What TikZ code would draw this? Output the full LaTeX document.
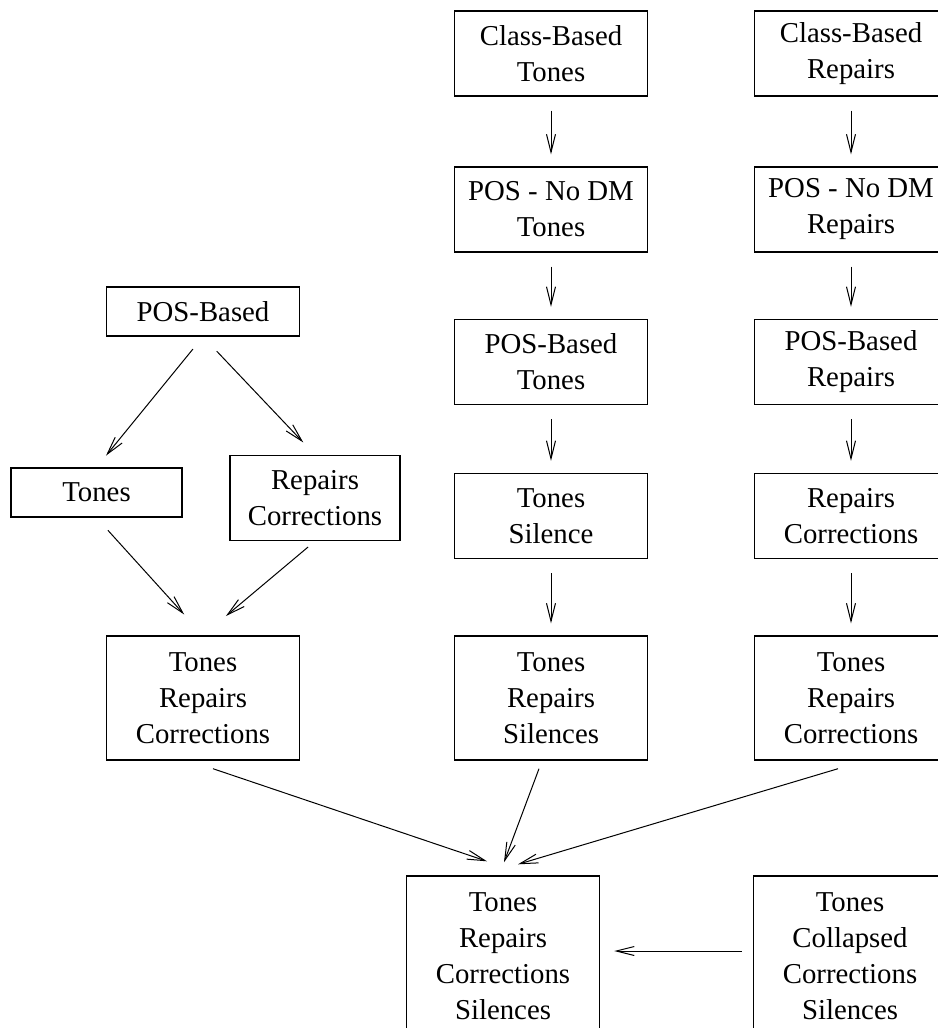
\documentclass[tikz,border=0pt]{standalone}
\usepackage{fontspec}
\setmainfont{Liberation Serif}
\usetikzlibrary{arrows.meta}

\tikzset{
  box/.style={draw, line width=0.7pt, inner sep=0pt, align=center,
    minimum width=96.5pt, font=\fontsize{14.4}{18}\selectfont},
  onebox/.style={box, minimum height=24.5pt},
  twobox/.style={box, minimum height=42.5pt},
  threebox/.style={box, minimum height=62pt},
  fourbox/.style={box, minimum height=80pt},
  flow/.style={-{Straight Barb[length=9pt,width=4.5pt]}, line width=0.5pt},
  down/.style={flow, shorten <=7pt, shorten >=6pt}
}

\begin{document}
\begin{tikzpicture}[x=0.5pt,y=-0.5pt]
\useasboundingbox (0,0) rectangle (937,1028);

% Left tree
\node[onebox] (pos) at (203,311.5) {POS-Based};
\node[onebox, minimum width=85.5pt] (tonesL) at (96.5,492.5) {Tones};
\node[twobox, minimum width=85pt] (repL) at (315,498) {Repairs\\Corrections};
\node[threebox] (trcL) at (203,698) {Tones\\Repairs\\Corrections};

% Middle column: tones
\node[twobox] (clsT) at (551,53.5) {Class-Based\\Tones};
\node[twobox] (nodmT) at (551,209.5) {POS - No DM\\Tones};
\node[twobox] (posT) at (551,362) {POS-Based\\Tones};
\node[twobox] (silT) at (551,516) {Tones\\Silence};
\node[threebox] (trsM) at (551,698) {Tones\\Repairs\\Silences};

% Right column: repairs
\node[twobox] (clsR) at (851,53.5) {Class-Based\\Repairs};
\node[twobox] (nodmR) at (851,209.5) {POS - No DM\\Repairs};
\node[twobox] (posR) at (851,362) {POS-Based\\Repairs};
\node[twobox] (rcR) at (851,516) {Repairs\\Corrections};
\node[threebox] (trcR) at (851,698) {Tones\\Repairs\\Corrections};

% Bottom row
\node[fourbox] (allB) at (503,956) {Tones\\Repairs\\Corrections\\Silences};
\node[fourbox] (collB) at (850,956) {Tones\\Collapsed\\Corrections\\Silences};

% Left tree arrows
\draw[flow, shorten <=8pt, shorten >=7.5pt] (pos.south) -- (tonesL.north);
\draw[flow, shorten <=10pt, shorten >=8.5pt] (pos.south) -- (repL.north);
\draw[flow, shorten <=8.5pt, shorten >=14pt] (tonesL.south) -- (trcL.north);
\draw[flow, shorten <=4.5pt, shorten >=15pt] (repL.south) -- (trcL.north);

% Column arrows
\foreach \a/\b in {clsT/nodmT, nodmT/posT, posT/silT, silT/trsM,
                   clsR/nodmR, nodmR/posR, posR/rcR, rcR/trcR} {
  \draw[down] (\a.south) -- (\b.north);
}

% Into the bottom box
\draw[flow] ([xshift=5pt,yshift=-4pt]trcL.south) -- ([xshift=-8pt,yshift=7pt]allB.north);
\draw[flow] ([xshift=-6pt,yshift=-4pt]trsM.south) -- ([xshift=0.5pt,yshift=6.5pt]allB.north);
\draw[flow] ([xshift=-6.5pt,yshift=-4pt]trcR.south) -- ([xshift=7.5pt,yshift=5.5pt]allB.north);
\draw[flow, shorten <=5.5pt, shorten >=7pt] ([yshift=2.5pt]collB.west) -- ([yshift=2.5pt]allB.east);

\end{tikzpicture}
\end{document}
